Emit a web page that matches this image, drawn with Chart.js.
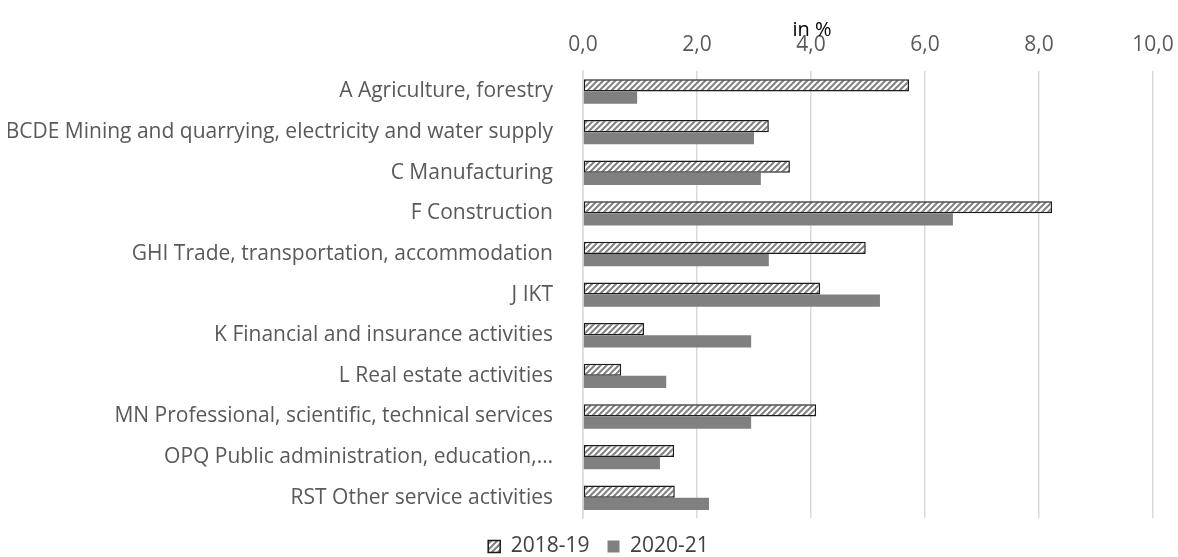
<!DOCTYPE html>
<html>
<head>
<meta charset="utf-8">
<script src="https://cdn.jsdelivr.net/npm/chart.js@4/dist/chart.umd.min.js"></script>
<style>
html, body { margin: 0; padding: 0; background: #fff; }
</style>
</head>
<body>
<canvas id="chart" width="1178" height="557"></canvas>
<script>
const categories = [
  "A Agriculture, forestry",
  "BCDE Mining and quarrying, electricity and water supply",
  "C Manufacturing",
  "F Construction",
  "GHI Trade, transportation, accommodation",
  "J IKT",
  "K Financial and insurance activities",
  "L Real estate activities",
  "MN Professional, scientific, technical services",
  "OPQ Public administration, education,…",
  "RST Other service activities"
];
const values2018 = [5.72, 3.26, 3.63, 8.23, 4.96, 4.16, 1.07, 0.67, 4.09, 1.60, 1.61];
const values2020 = [0.95, 3.00, 3.12, 6.49, 3.26, 5.21, 2.95, 1.46, 2.95, 1.35, 2.21];
const xTicks = [0, 2, 4, 6, 8, 10];

// hatch pattern for 2018-19
function makeHatch() {
  const c = document.createElement('canvas');
  c.width = 6; c.height = 6;
  const g = c.getContext('2d');
  g.fillStyle = '#fff';
  g.fillRect(0, 0, 6, 6);
  g.strokeStyle = '#808080';
  g.lineWidth = 2;
  g.beginPath();
  g.moveTo(0, 6); g.lineTo(6, 0);
  g.moveTo(-3, 3); g.lineTo(3, -3);
  g.moveTo(3, 9); g.lineTo(9, 3);
  g.stroke();
  return g.createPattern(c, 'repeat');
}

const FONT = "'Open Sans', sans-serif";

const unitTitle = {
  id: 'unitTitle',
  afterDraw(chart) {
    const ctx = chart.ctx;
    ctx.save();
    ctx.fillStyle = '#000';
    ctx.font = '20px ' + FONT;
    ctx.textAlign = 'center';
    ctx.textBaseline = 'middle';
    ctx.fillText('in %', 812, 30);
    ctx.restore();
  }
};

// thin legend band near the bottom edge, nudged right like the original
const legendBand = {
  id: 'legendBand',
  beforeLayout(chart) {
    const lg = chart.legend;
    if (lg && !lg._bandPatched) {
      const fit = lg.fit;
      lg.fit = function () { fit.call(this); this.height = 39; };
      lg._bandPatched = true;
    }
  },
  afterLayout(chart) {
    const lg = chart.legend;
    if (lg) { lg.left += 18; lg.right += 18; }
  }
};

new Chart(document.getElementById('chart'), {
  type: 'bar',
  data: {
    labels: categories,
    datasets: [
      {
        label: '2018-19',
        data: values2018,
        backgroundColor: makeHatch(),
        borderColor: '#1a1a1a',
        borderWidth: 1.5,
        borderSkipped: false,
        categoryPercentage: 0.6,
        barPercentage: 1.0
      },
      {
        label: '2020-21',
        data: values2020,
        backgroundColor: '#808080',
        borderWidth: 0,
        categoryPercentage: 0.6,
        barPercentage: 1.0
      }
    ]
  },
  options: {
    indexAxis: 'y',
    responsive: false,
    animation: false,
    layout: { padding: { left: 8, right: 25, top: 18, bottom: 0 } },
    scales: {
      x: {
        position: 'top',
        min: 0,
        max: 10,
        afterBuildTicks(axis) { axis.ticks = xTicks.map(v => ({ value: v })); },
        afterFit(axis) { axis.paddingLeft = 0; axis.paddingRight = 0; },
        ticks: {
          color: '#595959',
          font: { family: FONT, size: 21 },
          padding: 14,
          callback: v => v.toFixed(1).replace('.', ',')
        },
        grid: { color: '#d9d9d9', lineWidth: 1.5, drawTicks: false },
        border: { display: false }
      },
      y: {
        afterFit(axis) { axis.width = 575; },
        ticks: {
          color: '#595959',
          font: { family: FONT, size: 21 },
          padding: 22,
          autoSkip: false
        },
        grid: { display: false },
        border: { color: '#d9d9d9', width: 1.5 }
      }
    },
    plugins: {
      legend: {
        position: 'bottom',
        labels: {
          color: '#404040',
          font: { family: FONT, size: 21 },
          boxWidth: 12,
          boxHeight: 12,
          padding: 18
        }
      },
      tooltip: { enabled: false }
    }
  },
  plugins: [unitTitle, legendBand]
});
</script>
</body>
</html>
